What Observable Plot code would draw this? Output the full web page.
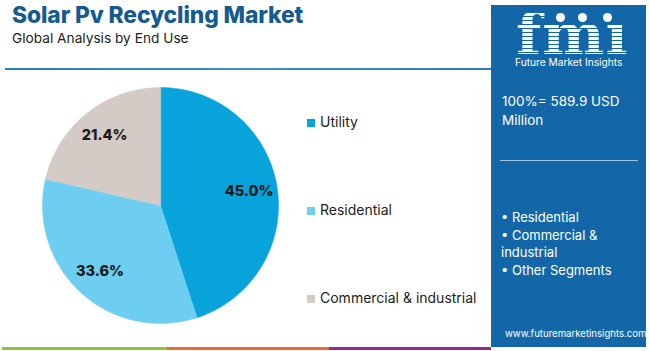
<!DOCTYPE html>
<html>
<head>
<meta charset="utf-8">
<script src="https://cdn.jsdelivr.net/npm/d3@7"></script>
<script src="https://cdn.jsdelivr.net/npm/@observablehq/plot@0.6"></script>
<style>
  html, body { margin: 0; padding: 0; background: #fff; }
  body { width: 650px; height: 351px; position: relative; overflow: hidden; font-family: Inter, "Open Sans", sans-serif; }
  .abs { position: absolute; white-space: nowrap; }
  #title { left: 12px; top: 1px; font-size: 22.8px; font-weight: 800; color: #155b90; letter-spacing: -0.1px; }
  #subtitle { left: 12px; top: 30px; font-size: 13.7px; color: #222; }
  #rule { left: 5px; top: 68px; width: 486px; height: 2px; background: linear-gradient(90deg, #2a80bb, #3b8fc8 50%, #2a80bb); }
  #pie { left: 42px; top: 87px; }
  .leg { position: absolute; left: 307px; font-size: 14px; color: #222; white-space: nowrap; }
  .leg span.sw { position: absolute; left: 0; width: 8px; height: 8px; top: 6px; }
  .leg span.t { position: absolute; left: 13px; top: 0; }
  #side { left: 491px; top: 5px; width: 155px; height: 342px; background: #1367a9; }
  #logo { left: 516px; top: 13px; font-family: "DejaVu Serif", serif; font-weight: 900; font-size: 56px; line-height: 43px; height: 43px; letter-spacing: 1px;
          background: repeating-linear-gradient(180deg, #fff 0 3px, #1367a9 3px 4px); -webkit-background-clip: text; background-clip: text; color: transparent; transform: scaleX(1.05); transform-origin: left; }
  .dot { position: absolute; width: 9px; height: 9px; border-radius: 50%; background: #fff; }
  #fmi { left: 515px; top: 57px; font-size: 10.2px; line-height: 11px; color: #fff; }
  #total { left: 502px; top: 92px; font-size: 13.5px; line-height: 19px; color: #fff; white-space: normal; width: 140px; }
  #sep { left: 500px; top: 160px; width: 138px; height: 1px; background: #9cc3e2; }
  #bul { left: 501px; top: 209px; font-size: 13px; line-height: 17.5px; color: #fff; white-space: normal; width: 125px; }
  #url { left: 505px; top: 328px; font-size: 9.6px; line-height: 12px; color: #fff; }
  .strip { position: absolute; top: 347px; height: 3px; }
</style>
</head>
<body>
<div id="title" class="abs">Solar Pv Recycling Market</div>
<div id="subtitle" class="abs">Global Analysis by End Use</div>
<div id="rule" class="abs"></div>
<div id="pie" class="abs"></div>
<div id="legend"></div>
<div id="side" class="abs"></div>
<div id="logo" class="abs">fmı</div>
<div class="dot" style="left:556px;top:13px;"></div>
<div class="dot" style="left:578px;top:13px;"></div>
<div class="dot" style="left:603px;top:13px;"></div>
<div id="fmi" class="abs">Future Market Insights</div>
<div id="total" class="abs"></div>
<div id="sep" class="abs"></div>
<div id="bul" class="abs"></div>
<div id="url" class="abs">www.futuremarketinsights.com</div>
<div class="strip" style="left:2px;width:165px;background:#8cc43f;"></div>
<div class="strip" style="left:167px;width:162px;background:#ee6a35;"></div>
<div class="strip" style="left:329px;width:162px;background:#912a8c;"></div>
<script>
// ---- data ----
const segments = ["Utility", "Residential", "Commercial & industrial"];
const shares = [45.0, 33.6, 21.4];
const colors = ["#09a3dc", "#6dcef2", "#d5cbc6"];
const totalLabel = "100%= 589.9 USD Million";
const sideSegments = ["Residential", "Commercial & industrial", "Other Segments"];
const legendTops = [113, 201, 289];

// ---- pie geometry derived from the shares ----
const pts = [];
const labels = [];
let cum = 0;
shares.forEach((s, i) => {
  const a0 = cum / 100 * 2 * Math.PI;
  const a1 = (cum + s) / 100 * 2 * Math.PI;
  const n = Math.max(2, Math.ceil(s * 3.6));
  pts.push({segment: segments[i], x: 0, y: 0});
  for (let k = 0; k <= n; k++) {
    const a = a0 + (a1 - a0) * k / n;
    pts.push({segment: segments[i], x: Math.sin(a), y: Math.cos(a)});
  }
  const am = (a0 + a1) / 2;
  labels.push({segment: segments[i], x: 0.76 * Math.sin(am), y: 0.76 * Math.cos(am), text: s.toFixed(1) + "%"});
  cum += s;
});

const chart = Plot.plot({
  width: 236, height: 236, margin: 0,
  x: {domain: [-1, 1], axis: null},
  y: {domain: [-1, 1], axis: null},
  color: {domain: segments, range: colors},
  style: {background: "transparent", overflow: "visible"},
  marks: [
    Plot.line(pts, {x: "x", y: "y", z: "segment", fill: "segment", stroke: "segment", strokeWidth: 0.5, curve: "linear-closed"}),
    Plot.text(labels, {x: "x", y: "y", text: "text", fill: "#1a1a1a", fontSize: 14.5, fontWeight: 800, fontFamily: "Inter, sans-serif"})
  ]
});
document.getElementById("pie").appendChild(chart);

// legend
const leg = document.getElementById("legend");
segments.forEach((s, i) => {
  const d = document.createElement("div");
  d.className = "leg";
  d.style.top = legendTops[i] + "px";
  d.innerHTML = `<span class="sw" style="background:${colors[i]}"></span><span class="t"></span>`;
  d.querySelector(".t").textContent = s;
  leg.appendChild(d);
});

document.getElementById("total").textContent = totalLabel;
document.getElementById("bul").innerHTML = sideSegments.map(s => "• " + s).join("<br>");
</script>
</body>
</html>
